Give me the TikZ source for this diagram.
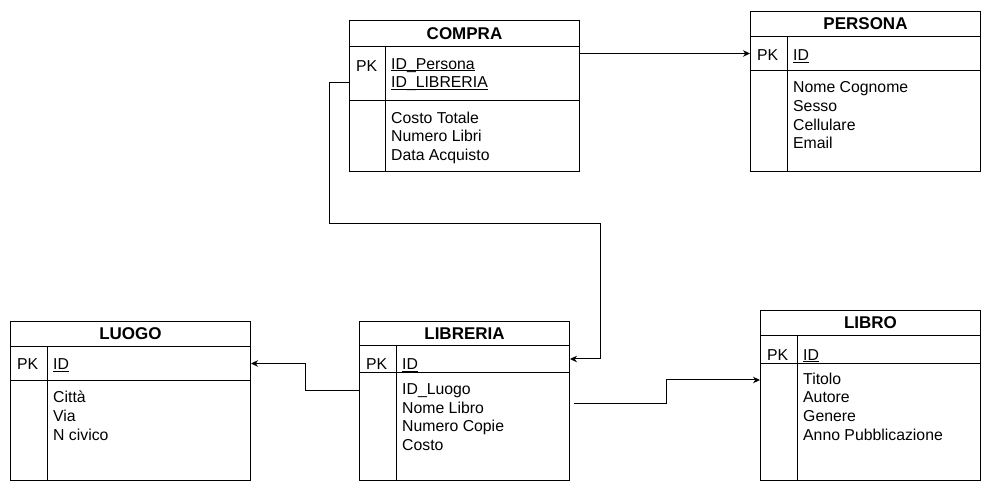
\documentclass[tikz,border=0pt]{standalone}
\usepackage{fontspec}
\setmainfont{Liberation Sans}
\usetikzlibrary{arrows.meta}
\newcommand{\keyname}[1]{\setbox0\hbox{#1}\rlap{\rule[-2pt]{\wd0}{0.8pt}}\box0}
\tikzset{
  cellbox/.style={draw, line width=1pt, rectangle, anchor=north west, inner sep=0pt},
  entityname/.style={font=\fontsize{17}{20}\selectfont\bfseries},
  field/.style={anchor=north west, inner sep=0pt, align=left, yshift=-1.5pt, font=\fontsize{15.8}{18.7}\selectfont,
    execute at begin node={\rule{0pt}{13pt}}},
  fk/.style={line width=1pt, -{Stealth[length=7pt,width=6.5pt]}}
}
\begin{document}
\begin{tikzpicture}[x=1pt, y=-1pt]
        \useasboundingbox (0,0) rectangle (991,494);
        \node [cellbox, entityname, minimum width=230pt, minimum height=26pt] (compra) at (349,20) {COMPRA};
        \node [cellbox, minimum width=230pt, minimum height=54pt] (compra-keys) at (349,46) {};
        \node [cellbox, minimum width=230pt, minimum height=71pt] (compra-attrs) at (349,100) {};
        \node [cellbox, minimum width=36pt, minimum height=125pt] (compra-pk) at (349,46) {};
        \node [field] (compra-pktext) at (356,56.5) {PK};
        \node [field] (compra-keytext) at (391,56.5) {\keyname{ID\_Persona}\\\keyname{ID\_LIBRERIA}};
        \node [field] (compra-attrtext) at (391,110) {Costo Totale\\Numero Libri\\Data Acquisto};

        \node [cellbox, entityname, minimum width=230pt, minimum height=25pt] (persona) at (750,11) {PERSONA};
        \node [cellbox, minimum width=230pt, minimum height=34pt] (persona-keys) at (750,36) {};
        \node [cellbox, minimum width=230pt, minimum height=101pt] (persona-attrs) at (750,70) {};
        \node [cellbox, minimum width=37pt, minimum height=135pt] (persona-pk) at (750,36) {};
        \node [field] (persona-pktext) at (757,46) {PK};
        \node [field] (persona-keytext) at (793,46) {\keyname{ID}};
        \node [field] (persona-attrtext) at (793,80) {Nome Cognome\\Sesso\\Cellulare\\Email};

        \node [cellbox, entityname, minimum width=240pt, minimum height=25pt] (luogo) at (10,321) {LUOGO};
        \node [cellbox, minimum width=240pt, minimum height=34pt] (luogo-keys) at (10,346) {};
        \node [cellbox, minimum width=240pt, minimum height=100pt] (luogo-attrs) at (10,380) {};
        \node [cellbox, minimum width=37pt, minimum height=134pt] (luogo-pk) at (10,346) {};
        \node [field] (luogo-pktext) at (17,355) {PK};
        \node [field] (luogo-keytext) at (53,355) {\keyname{ID}};
        \node [field] (luogo-attrtext) at (53,389.5) {Città\\Via\\N civico};

        \node [cellbox, entityname, minimum width=210pt, minimum height=24pt] (libreria) at (359,321) {LIBRERIA};
        \node [cellbox, minimum width=210pt, minimum height=27pt] (libreria-keys) at (359,345) {};
        \node [cellbox, minimum width=210pt, minimum height=108pt] (libreria-attrs) at (359,372) {};
        \node [cellbox, minimum width=37pt, minimum height=135pt] (libreria-pk) at (359,345) {};
        \node [field] (libreria-pktext) at (366,355) {PK};
        \node [field] (libreria-keytext) at (402,355) {\keyname{ID}};
        \node [field] (libreria-attrtext) at (402,382) {ID\_Luogo\\Nome Libro\\Numero Copie\\Costo};

        \node [cellbox, entityname, minimum width=220pt, minimum height=25pt] (libro) at (760,310) {LIBRO};
        \node [cellbox, minimum width=220pt, minimum height=28pt] (libro-keys) at (760,335) {};
        \node [cellbox, minimum width=220pt, minimum height=117pt] (libro-attrs) at (760,363) {};
        \node [cellbox, minimum width=37pt, minimum height=145pt] (libro-pk) at (760,335) {};
        \node [field] (libro-pktext) at (767,345.5) {PK};
        \node [field] (libro-keytext) at (803,345.5) {\keyname{ID}};
        \node [field] (libro-attrtext) at (803,371) {Titolo\\Autore\\Genere\\Anno Pubblicazione};

        \draw [fk] (compra-keys.east |- persona-keys.west) -- (persona-keys.west);
        \draw [fk] ([yshift=-9pt]compra-keys.west) -- ++(-20,0) -- ++(0,141) -| ([xshift=30pt]libreria-keys.east) -- (libreria-keys.east);
        \draw [fk] ([yshift=-18pt]libreria-attrs.north west) -- ++(-54,0) |- (luogo-keys.east);
        \draw [fk] ([xshift=4pt,yshift=-31pt]libreria-attrs.north east) -- ++(92,0) |- ([yshift=-17pt]libro-attrs.north west);
\end{tikzpicture}
\end{document}
